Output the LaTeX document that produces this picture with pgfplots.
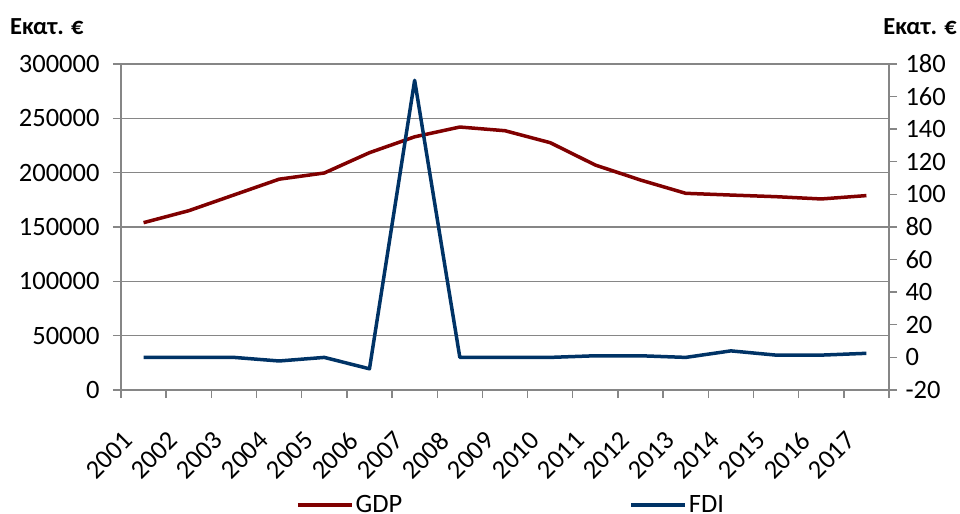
\documentclass[border=0pt]{standalone}
\usepackage{pgfplots}
\usepackage{pgfplotstable}
\pgfplotsset{compat=1.18}
\usepackage{fontspec}
\setmainfont{Carlito}

\definecolor{gdpred}{RGB}{128,0,0}
\definecolor{fdiblue}{RGB}{0,51,102}
\definecolor{gridgray}{RGB}{134,134,134}

\newcommand\chartfont{\fontsize{26.5bp}{32bp}\selectfont}

% GDP in million euro (left axis), FDI in million euro (right axis)
\pgfplotstableread{
year gdp    fdi
2001 154000 0
2002 165000 0
2003 179500 0
2004 194000 -2.2
2005 199700 0
2006 218400 -7
2007 233000 170
2008 242000 0
2009 238600 0
2010 227600 0
2011 207000 1
2012 193200 1
2013 181000 0
2014 179400 4
2015 177900 1.4
2016 175800 1.4
2017 178900 2.5
}\datatable

\pgfplotsset{
  common/.style={
    scale only axis,
    width=768bp, height=326bp,
    at={(121bp,124bp)}, anchor=south west,
    xmin=-0.5, xmax=16.5,
    /pgf/number format/assume math mode=true,
    tick label style={font=\chartfont},
    axis line style={gridgray, line width=1.4bp, -},
    tick style={gridgray, line width=1.4bp},
    tick align=outside,
    major tick length=8bp,
    clip=false,
  },
}

\begin{document}
\begin{tikzpicture}
\path[use as bounding box] (0bp,0bp) rectangle (960bp,514bp);

\begin{axis}[
  common,
  axis x line*=bottom,
  axis y line*=left,
  ymin=0, ymax=300000,
  ytick={0,50000,...,300000},
  scaled y ticks=false,
  /pgf/number format/fixed,
  /pgf/number format/1000 sep={},
  yticklabel style={xshift=-10bp},
  ymajorgrids,
  major grid style={gridgray, line width=1.4bp},
  xtick={0,...,16},
  xticklabels={2001,2002,2003,2004,2005,2006,2007,2008,2009,2010,2011,2012,2013,2014,2015,2016,2017},
  xtick style={draw=none},
  xticklabel style={xshift=-13bp, yshift=-36bp, rotate=45, anchor=east},
  extra x ticks={-0.5,0.5,...,16.5},
  extra x tick labels={},
  extra x tick style={grid=none, xtick style={draw=gridgray}},
]
\addplot[gdpred, line width=3.5bp, line join=round] table[x expr=\coordindex, y=gdp] {\datatable};
\end{axis}

\begin{axis}[
  common,
  axis y line*=right,
  axis x line=none,
  ymin=-20, ymax=180,
  ytick={-20,0,...,180},
  yticklabel style={xshift=5bp},
  legend columns=2,
  legend style={
    draw=none, fill=none,
    at={(0.2279,-0.352)}, anchor=west,
    font=\chartfont,
    inner sep=0pt,
    /tikz/every even column/.append style={column sep=225bp},
  },
  legend image code/.code={\draw[#1] (0bp,0bp) -- (54bp,0bp);},
]
\addlegendimage{gdpred, line width=3.5bp}
\addlegendentry{GDP}
\addplot[fdiblue, line width=3.5bp, line join=round] table[x expr=\coordindex, y=fdi] {\datatable};
\addlegendentry{FDI}
\end{axis}

\node[anchor=base west, font=\fontsize{24.5bp}{28bp}\selectfont\bfseries, inner sep=0pt] at (10bp,479bp) {Εκατ. €};
\node[anchor=base east, font=\fontsize{24.5bp}{28bp}\selectfont\bfseries, inner sep=0pt] at (957bp,479bp) {Εκατ. €};
\end{tikzpicture}
\end{document}
